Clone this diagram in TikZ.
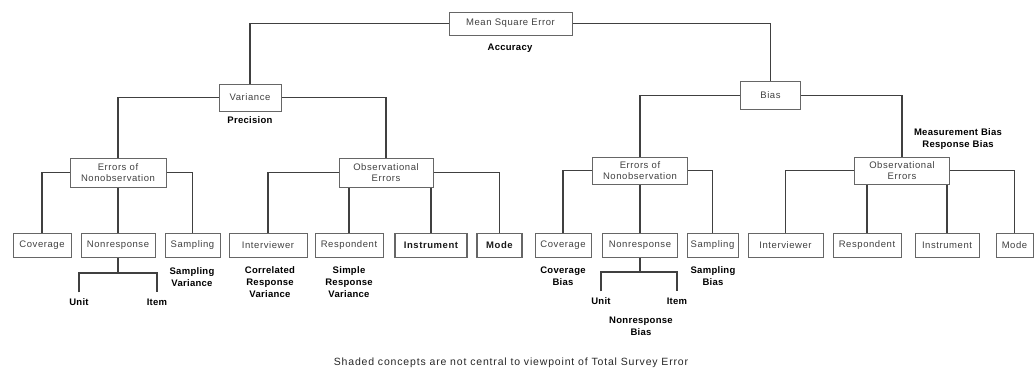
\documentclass[tikz,border=0pt]{standalone}
\usepackage{fontspec}
\setmainfont{Liberation Sans}
\newfontfamily\bx[LetterSpace=6]{Liberation Sans}
\newfontfamily\lb[LetterSpace=3]{Liberation Sans}
\newfontfamily\nt[LetterSpace=8]{Liberation Sans}
\begin{document}
\begin{tikzpicture}[x=1pt,y=-1pt,
  box/.style={draw=black!60, line width=1pt, inner sep=0pt, align=center,
    font=\bx\fontsize{9.5}{11.5}\selectfont, text=black!75},
  shbox/.style={box, font=\bx\bfseries\fontsize{9.5}{11.5}\selectfont, text=black!90, line width=1.2pt},
  lab/.style={inner sep=0pt, align=center, font=\lb\bfseries\fontsize{9.5}{12}\selectfont},
  con/.style={draw=black!75, line width=1.8pt, line join=miter}]
\useasboundingbox (0,0) rectangle (1034,376);
% level 1
\node[box, minimum width=123pt, minimum height=23pt] (mse) at (510.5,23.5) {Mean Square Error};
\node[lab] (acc) at (510,48) {Accuracy};
% level 2
\node[box, minimum width=62pt, minimum height=27pt] (var) at (250,97.5) {Variance};
\node[lab] (prec) at (250,120) {Precision};
\node[box, minimum width=60pt, minimum height=28pt] (bias) at (770.5,95.5) {Bias};
\node[lab] (mbias) at (958,139) {Measurement Bias\\Response Bias};
% level 3
\node[box, minimum width=96pt, minimum height=29pt] (enel) at (118,172.5) {Errors of\\Nonobservation};
\node[box, minimum width=94pt, minimum height=29pt] (obsl) at (386,172.5) {Observational\\Errors};
\node[box, minimum width=95pt, minimum height=27pt] (ener) at (640,170.5) {Errors of\\Nonobservation};
\node[box, minimum width=95pt, minimum height=27pt] (obsr) at (902,170.5) {Observational\\Errors};
% level 4 left
\node[box, minimum width=58pt, minimum height=24pt] (covl) at (42,245.5) {Coverage};
\node[box, minimum width=74pt, minimum height=24pt] (nrl) at (118,245.5) {Nonresponse};
\node[box, minimum width=55pt, minimum height=24pt] (sampl) at (192.5,245.5) {Sampling};
\node[box, minimum width=78pt, minimum height=24pt] (intl) at (268,245.5) {Interviewer};
\node[box, minimum width=68pt, minimum height=24pt] (respl) at (349,245.5) {Respondent};
\node[shbox, minimum width=72pt, minimum height=24pt] (instl) at (431,245.5) {Instrument};
\node[shbox, minimum width=45pt, minimum height=24pt] (model) at (499.5,245.5) {Mode};
% level 4 right
\node[box, minimum width=56pt, minimum height=24pt] (covr) at (563,245) {Coverage};
\node[box, minimum width=75pt, minimum height=24pt] (nrr) at (640,245) {Nonresponse};
\node[box, minimum width=51pt, minimum height=24pt] (sampr) at (712.5,245) {Sampling};
\node[box, minimum width=75pt, minimum height=24pt] (intr) at (785.5,245) {Interviewer};
\node[box, minimum width=68pt, minimum height=24pt] (respr) at (867,245) {Respondent};
\node[box, minimum width=64pt, minimum height=24pt] (instr) at (947,245) {Instrument};
\node[box, minimum width=37pt, minimum height=24pt] (moder) at (1014.5,245) {Mode};
% labels under level 4
\node[lab] (sampvl) at (192,277) {Sampling\\Variance};
\node[lab] (crv) at (270,282.5) {Correlated\\Response\\Variance};
\node[lab] (srv) at (349,282.5) {Simple\\Response\\Variance};
\node[lab] (unitl) at (79,302) {Unit};
\node[lab] (iteml) at (157,302) {Item};
\node[lab] (covb) at (563,276) {Coverage\\Bias};
\node[lab] (sampb) at (713,276) {Sampling\\Bias};
\node[lab] (unitr) at (601,301) {Unit};
\node[lab] (itemr) at (677,301) {Item};
\node[lab] (nrb) at (641,326) {Nonresponse\\Bias};
\node[inner sep=0pt, font=\nt\fontsize{10.5}{12}\selectfont, text=black!85] (note) at (511,363) {Shaded concepts are not central to viewpoint of Total Survey Error};
\coordinate (jl) at (118,273);
\coordinate (jr) at (640,272);
% connectors
\draw[con] (mse.west) -| (var.north);
\draw[con] (mse.east) -| (bias.north);
\draw[con] (var.west) -| (enel.north);
\draw[con] (var.east) -| (obsl.north);
\draw[con] (bias.west) -| (ener.north);
\draw[con] (bias.east) -| (obsr.north);
\draw[con] (enel.west) -| (covl.north);
\draw[con] (enel.east) -| (sampl.north);
\draw[con] (enel.south) -- (nrl.north);
\draw[con] (obsl.west) -| (intl.north);
\draw[con] (obsl.east) -| (model.north);
\draw[con] (respl.north) -- (respl.north |- obsl.south);
\draw[con] (instl.north) -- (instl.north |- obsl.south);
\draw[con] (ener.west) -| (covr.north);
\draw[con] (ener.east) -| (sampr.north);
\draw[con] (ener.south) -- (nrr.north);
\draw[con] (obsr.west) -| (intr.north);
\draw[con] (obsr.east) -| (moder.north);
\draw[con] (respr.north) -- (respr.north |- obsr.south);
\draw[con] (instr.north) -- (instr.north |- obsr.south);
\draw[con] (nrl.south) -- (jl);
\draw[con] ([yshift=6pt]unitl.north) |- (jl) -| ([yshift=6pt]iteml.north);
\draw[con] (nrr.south) -- (jr);
\draw[con] ([yshift=6pt]unitr.north) |- (jr) -| ([yshift=6pt]itemr.north);
\end{tikzpicture}
\end{document}
